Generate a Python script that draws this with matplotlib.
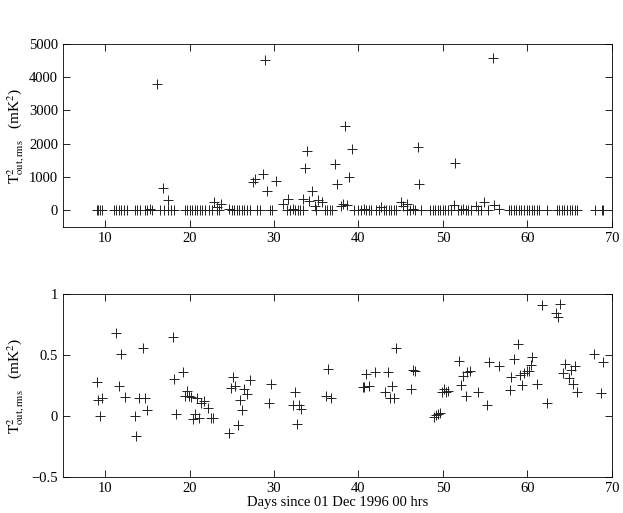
import matplotlib

matplotlib.use("Agg")
import matplotlib.pyplot as plt

# top panel: T^2 out,rms (mK^2) vs day
top_days = [
    # outliers
    16.2, 28.9, 16.9, 17.4, 22.9, 23.7, 23.3, 27.5, 27.8, 28.7, 29.2, 30.2,
    31.1, 31.7, 33.4, 33.7, 33.9, 34.2, 34.5, 34.8, 35.2, 35.7, 37.2, 37.4,
    37.9, 38.2, 38.6, 38.4, 38.9, 39.2, 47.0, 47.2, 51.4, 55.9, 45.0, 45.7,
    51.3, 53.9, 54.9, 56.1, 42.7, 45.3,
    # near-zero runs
    9.0, 9.2, 9.4, 9.6, 11.0, 11.3, 11.6, 11.9, 12.2, 12.6, 13.5, 13.8, 14.1,
    14.7, 15.0, 15.3, 15.6, 16.5, 17.0, 17.5, 17.8, 18.2, 19.4, 19.7, 20.0,
    20.3, 20.6, 20.9, 21.2, 21.5, 21.8, 22.3, 22.6, 23.2, 23.5, 24.7, 25.0,
    25.3, 25.6, 25.9, 26.2, 26.5, 26.8, 27.1, 28.0, 28.3, 29.5, 29.8, 31.5,
    31.9, 32.2, 32.5, 32.8, 33.1, 33.4, 35.0, 36.0, 36.3, 36.6, 36.9, 39.5,
    39.9, 40.3, 40.6, 40.9, 41.2, 41.5, 42.1, 42.4, 43.0, 43.3, 43.6, 43.9,
    44.2, 44.5, 45.8, 46.1, 46.4, 46.7, 47.4, 48.5, 48.8, 49.1, 49.4, 49.7,
    50.0, 50.3, 50.6, 50.9, 51.8, 52.1, 52.4, 52.7, 53.0, 53.3, 54.2, 54.5,
    55.3, 56.7, 57.8, 58.1, 58.4, 58.7, 59.0, 59.3, 59.6, 59.9, 60.2, 60.5,
    60.8, 61.1, 61.4, 62.3, 63.5, 63.8, 64.1, 64.4, 64.7, 65.0, 65.3, 65.6,
    65.9, 68.0, 68.8, 69.0,
]
top_trms = [
    3780, 4530, 680, 320, 250, 200, 100, 860, 930, 1100, 590, 870,
    200, 350, 350, 1270, 1790, 280, 570, 130, 300, 250, 1400, 780,
    130, 180, 150, 2530, 990, 1840, 1910, 790, 1430, 4570, 250, 180,
    150, 120, 240, 150, 100, 120,
    5, 0, 3, 0, 0, 4, 0, 2, 0, 5, 0, 3, 0,
    10, 20, 30, 0, 0, 4, 0, 2, 0, 0, 3, 0,
    5, 0, 2, 0, 4, 0, 0, 3, 10, 0, 40, 5, 0, 0,
    3, 0, 5, 0, 0, 2, 0, 0, 4, 0, 10, 30, 20,
    0, 3, 0, 0, 2, 0, 20, 0, 4, 0, 0, 30,
    10, 0, 3, 0, 5, 0, 10, 0, 0, 4, 0, 2,
    0, 50, 0, 4, 0, 0, 10, 0, 5, 0, 3, 0,
    0, 2, 0, 30, 0, 4, 0, 0, 3, 0, 40, 10,
    20, 10, 0, 4, 0, 0, 2, 0, 5, 0, 3, 0,
    0, 4, 0, 0, 5, 0, 3, 0, 2, 0, 4, 0,
    0,
]

# bottom panel: T^2 out,rms (mK^2) vs day
bot_days = [
    9.0, 9.2, 9.4, 9.6, 11.3, 11.7, 11.9, 12.3, 13.5, 13.7, 14.0, 14.5, 14.7,
    14.9, 18.0, 18.2, 18.4, 19.2, 19.5, 19.7, 19.9, 20.2, 20.4, 20.7, 20.9,
    21.1, 21.4, 21.7, 22.2, 22.5, 22.8, 24.7, 24.9, 25.2, 25.4, 25.7, 26.0,
    26.2, 26.4, 26.8, 27.2, 29.4, 29.7, 32.2, 32.5, 32.7, 32.9, 33.2, 36.2,
    36.4, 36.7, 40.5, 40.7, 40.9, 41.2, 42.0, 43.2, 43.5, 43.7, 44.0, 44.2,
    44.5, 46.2, 46.4, 46.7, 48.9, 49.2, 49.4, 49.7, 49.9, 50.1, 50.4, 50.6,
    51.9, 52.2, 52.4, 52.7, 52.9, 53.2, 54.2, 55.2, 55.5, 56.7, 57.9, 58.1,
    58.4, 58.9, 59.1, 59.4, 59.6, 59.9, 60.2, 60.4, 60.6, 61.2, 61.7, 62.3,
    63.4, 63.6, 63.9, 64.2, 64.5, 64.9, 65.2, 65.4, 65.7, 65.9, 67.9, 68.7,
    69.0,
]
bot_trms = [
    0.275, 0.13, 0.00, 0.15, 0.68, 0.245, 0.51, 0.16, 0.00, -0.165, 0.15, 0.56,
    0.15, 0.047, 0.65, 0.305, 0.014, 0.36, 0.165, 0.205, 0.165, 0.157, -0.025,
    0.016, 0.15, -0.02, 0.107, 0.124, 0.063, -0.02, -0.02, -0.14, 0.233, 0.316,
    0.245, -0.07, 0.13, 0.05, 0.22, 0.184, 0.297, 0.107, 0.266, 0.09, 0.2,
    -0.063, 0.09, 0.055, 0.165, 0.387, 0.15, 0.24, 0.24, 0.346, 0.245, 0.363,
    0.2, 0.357, 0.15, 0.245, 0.148, 0.555, 0.225, 0.38, 0.37, -0.01, 0.008,
    0.02, 0.022, 0.195, 0.22, 0.2, 0.205, 0.45, 0.258, 0.327, 0.168, 0.357,
    0.37, 0.198, 0.088, 0.44, 0.407, 0.217, 0.316, 0.47, 0.59, 0.335, 0.253,
    0.35, 0.37, 0.37, 0.418, 0.48, 0.264, 0.906, 0.11, 0.843, 0.81, 0.918,
    0.354, 0.426, 0.313, 0.38, 0.26, 0.41, 0.2, 0.505, 0.19, 0.44,
]

plt.rcParams["font.family"] = ["Liberation Serif", "DejaVu Serif"]
plt.rcParams["mathtext.fontset"] = "stix"
plt.rcParams["font.size"] = 10

fig = plt.figure(figsize=(6.23, 5.13), dpi=100)
ax_top = fig.add_axes((0.101, 0.5575, 0.881, 0.357))
ax_bot = fig.add_axes((0.101, 0.070, 0.881, 0.357))

ylabel = r"$\mathrm{T}^2_{\mathrm{out,rms}}$   (mK$^2$)"
for ax, days, vals in [(ax_top, top_days, top_trms), (ax_bot, bot_days, bot_trms)]:
    ax.plot(days, vals, "+", color="#222222", markersize=6.5, markeredgewidth=0.7)
    ax.set_xlim(5, 70)
    ax.set_xticks([10, 20, 30, 40, 50, 60, 70])
    ax.tick_params(direction="in", top=True, right=True, length=5, width=0.6,
                   labelsize=10.5)
    for sp in ax.spines.values():
        sp.set_linewidth(0.6)
    ax.set_ylabel(ylabel, fontsize=11)
    ax.yaxis.set_label_coords(-0.066, 0.5)

ax_top.set_ylim(-500, 5000)
ax_top.set_yticks([0, 1000, 2000, 3000, 4000, 5000])
ax_bot.set_ylim(-0.5, 1)
ax_bot.set_yticks([-0.5, 0, 0.5, 1])
ax_bot.set_yticklabels(["\u22120.5", "0", "0.5", "1"])
ax_bot.set_xlabel("Days since 01 Dec 1996 00 hrs", fontsize=10.5, labelpad=1)

fig.savefig("out.png", dpi=100)
